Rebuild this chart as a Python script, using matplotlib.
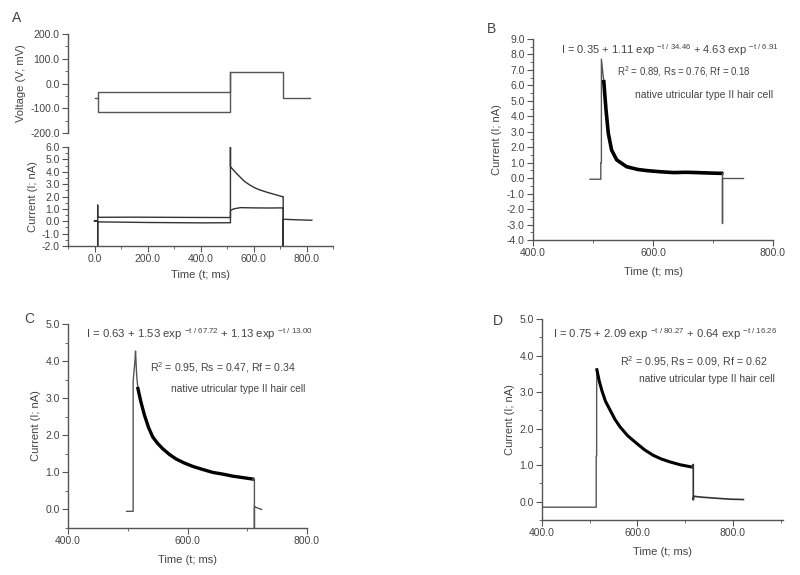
import matplotlib
matplotlib.use("Agg")
import matplotlib.pyplot as plt
from matplotlib.ticker import MultipleLocator, FormatStrFormatter

plt.rcParams['font.family'] = ['Liberation Sans', 'DejaVu Sans']
plt.rcParams['mathtext.fontset'] = 'custom'
plt.rcParams['mathtext.rm'] = 'Liberation Sans'
plt.rcParams['mathtext.it'] = 'Liberation Sans'

W, H = 800, 575
GRAY = '#555555'
TXT = '#444444'

# ---- Panel A: voltage protocol (two prepulses) ----
volt_t_hi = [0, 12, 12, 512, 512, 712, 712, 815]
volt_v_hi = [-60, -60, -35, -35, 45, 45, -60, -60]
volt_t_lo = [12, 12, 512, 512]
volt_v_lo = [-60, -115, -115, 45]

# ---- Panel A: currents ----
curA_t1 = [0, 12, 12, 12, 150, 350, 510, 513, 513, 513, 530, 548, 566, 586, 605, 624, 650, 674, 709, 712, 712, 760, 820]
curA_i1 = [0.05, 0.05, 1.3, 0.32, 0.33, 0.31, 0.3, 0.3, 6.0, 4.41, 4.0, 3.6, 3.22, 2.93, 2.7, 2.53, 2.35, 2.2, 1.99, 1.99, 0.16, 0.12, 0.08]
curA_t2 = [0, 12, 12, 12, 200, 400, 510, 513, 513, 525, 551, 600, 660, 709, 712, 712, 712]
curA_i2 = [0.0, 0.0, -2.05, -0.05, -0.1, -0.13, -0.12, -0.12, 0.86, 1.0, 1.1, 1.08, 1.07, 1.08, 1.08, -2.0, 0.14]

# ---- Panel B ----
B_step_t = [495, 513, 513, 514, 514, 518]
B_step_i = [-0.07, -0.07, 1.0, 1.0, 7.7, 6.24]
B_decay_t = [518, 521.7, 525.5, 531, 539.5, 556, 575, 589.5, 610, 634, 655, 673, 695, 714.5]
B_decay_i = [6.24, 4.41, 2.9, 1.82, 1.18, 0.74, 0.56, 0.49, 0.42, 0.36, 0.38, 0.36, 0.33, 0.31]
B_tail_t = [714.5, 715, 715, 715, 750]
B_tail_i = [0.31, 0.31, -2.92, 0.0, 0.0]

# ---- Panel C ----
C_step_t = [498, 509, 509, 512, 513, 515, 517]
C_step_i = [-0.05, -0.05, 3.45, 4.0, 4.27, 3.6, 3.26]
C_decay_t = [517, 522, 528, 535, 542, 550, 559, 570, 581, 595, 609, 625, 642, 660, 675, 692, 709]
C_decay_i = [3.26, 2.9, 2.54, 2.2, 1.95, 1.78, 1.63, 1.48, 1.36, 1.25, 1.16, 1.08, 1.0, 0.95, 0.9, 0.86, 0.82]
C_tail_t = [709, 712, 712, 712, 714, 724]
C_tail_i = [0.82, 0.82, -0.5, 0.08, 0.06, 0.0]

# ---- Panel D ----
D_step_t = [400, 513.6, 513.6, 514.5, 514.5, 515]
D_step_i = [-0.15, -0.15, 1.25, 1.25, 3.0, 3.61]
D_decay_t = [515, 520, 525.5, 533, 543, 553, 564, 580, 599, 615, 633, 650, 668, 690, 714]
D_decay_i = [3.61, 3.3, 3.04, 2.75, 2.5, 2.25, 2.04, 1.8, 1.59, 1.42, 1.27, 1.17, 1.09, 1.01, 0.95]
D_tail_t = [714, 717, 717, 718, 730, 760, 794, 822]
D_tail_i = [0.95, 1.02, 0.05, 0.15, 0.13, 0.1, 0.07, 0.06]

eqB = r'I = 0.35 + 1.11 exp $^{-t\ /\ 34.46}$ + 4.63 exp $^{-t\ /\ 6.91}$'
eqC = r'I = 0.63 + 1.53 exp $^{-t\ /\ 67.72}$ + 1.13 exp $^{-t\ /\ 13.00}$'
eqD = r'I = 0.75 + 2.09 exp $^{-t\ /\ 80.27}$ + 0.64 exp $^{-t\ /\ 16.26}$'
fitB = r'R$^2$ = 0.89, Rs = 0.76, Rf = 0.18'
fitC = r'R$^2$ = 0.95, Rs = 0.47, Rf = 0.34'
fitD = r'R$^2$ = 0.95, Rs = 0.09, Rf = 0.62'
cell = 'native utricular type II hair cell'


def px_axes(fig, left, top, right, bottom):
    return fig.add_axes([left / W, 1 - bottom / H, (right - left) / W, (bottom - top) / H])


def style(ax, xmaj, xmin, ymaj, ymin, xlab=True):
    for s in ['top', 'right']:
        ax.spines[s].set_visible(False)
    for s in ['left', 'bottom']:
        ax.spines[s].set_color(GRAY)
        ax.spines[s].set_linewidth(1)
    ax.xaxis.set_major_locator(MultipleLocator(xmaj))
    ax.xaxis.set_minor_locator(MultipleLocator(xmin))
    ax.yaxis.set_major_locator(MultipleLocator(ymaj))
    ax.yaxis.set_minor_locator(MultipleLocator(ymin))
    ax.xaxis.set_major_formatter(FormatStrFormatter('%.1f'))
    ax.yaxis.set_major_formatter(FormatStrFormatter('%.1f'))
    ax.tick_params(which='major', length=4, width=0.8, color=GRAY, labelsize=7.5, labelcolor=TXT, pad=2)
    ax.tick_params(which='minor', length=2, width=0.6, color=GRAY)
    if not xlab:
        ax.spines['bottom'].set_visible(False)
        ax.tick_params(axis='x', which='both', bottom=False, labelbottom=False)


def labels(ax, xpad=None):
    ax.set_ylabel('Current (I; nA)', fontsize=8, color=TXT, labelpad=3)
    if xpad is not None:
        ax.set_xlabel('Time (t; ms)', fontsize=8, color=TXT, labelpad=xpad)


def ftext(fig, x, y, s, size=7.5, ha='left', **kw):
    fig.text(x / W, 1 - y / H, s, ha=ha, va='center', fontsize=size, color=TXT, **kw)


fig = plt.figure(figsize=(8, 5.75), dpi=100)

# Panel A voltage
axV = px_axes(fig, 68, 34, 333, 133)
axV.plot(volt_t_hi, volt_v_hi, color=GRAY, lw=1)
axV.plot(volt_t_lo, volt_v_lo, color=GRAY, lw=1)
axV.set_xlim(-100, 900)
axV.set_ylim(-200, 200)
style(axV, 200, 100, 100, 50, xlab=False)
axV.set_ylabel('Voltage (V; mV)', fontsize=8, color=TXT, labelpad=3)

# Panel A current
axA = px_axes(fig, 68, 147, 333, 246)
axA.plot(curA_t1, curA_i1, color='#333333', lw=1)
axA.plot(curA_t2, curA_i2, color='#333333', lw=1)
axA.set_xlim(-100, 900)
axA.set_ylim(-2, 6)
style(axA, 200, 100, 1, 0.5)
labels(axA, 4)

# Panel B
axB = px_axes(fig, 533, 39, 773, 240)
axB.plot(B_step_t, B_step_i, color=GRAY, lw=1)
axB.plot(B_decay_t, B_decay_i, color='black', lw=2.6)
axB.plot(B_tail_t, B_tail_i, color=GRAY, lw=1)
axB.set_xlim(400, 800)
axB.set_ylim(-4, 9)
style(axB, 200, 100, 1, 0.5)
labels(axB, 6)

# Panel C
axC = px_axes(fig, 68, 324, 307, 528)
axC.plot(C_step_t, C_step_i, color=GRAY, lw=1)
axC.plot(C_decay_t, C_decay_i, color='black', lw=2.4)
axC.plot(C_tail_t, C_tail_i, color=GRAY, lw=1)
axC.set_xlim(400, 800)
axC.set_ylim(-0.5, 5.0)
style(axC, 200, 100, 1, 0.5)
labels(axC, 6)

# Panel D
axD = px_axes(fig, 542, 319, 783, 520)
axD.plot(D_step_t, D_step_i, color=GRAY, lw=1)
axD.plot(D_decay_t, D_decay_i, color='black', lw=2.2)
axD.plot(D_tail_t, D_tail_i, color='#333333', lw=1.2)
axD.set_xlim(400, 905)
axD.set_ylim(-0.5, 5.0)
style(axD, 200, 100, 1, 0.5)
labels(axD, 6)

# annotations
ftext(fig, 561, 50, eqB, size=8)
ftext(fig, 617, 72, fitB, size=6.9)
ftext(fig, 635, 95, cell, size=7.5)
ftext(fig, 86, 334, eqC, size=8.2)
ftext(fig, 150, 368, fitC, size=7.6)
ftext(fig, 171, 389, cell, size=7.3)
ftext(fig, 553, 334, eqD, size=8.1)
ftext(fig, 620, 362, fitD, size=7.7)
ftext(fig, 639, 379, cell, size=7.4)

# panel letters
ftext(fig, 12, 18, 'A', size=10)
ftext(fig, 487, 29, 'B', size=10)
ftext(fig, 24, 319, 'C', size=10)
ftext(fig, 493, 321, 'D', size=10)

fig.savefig('out.png', dpi=100, facecolor='white')
